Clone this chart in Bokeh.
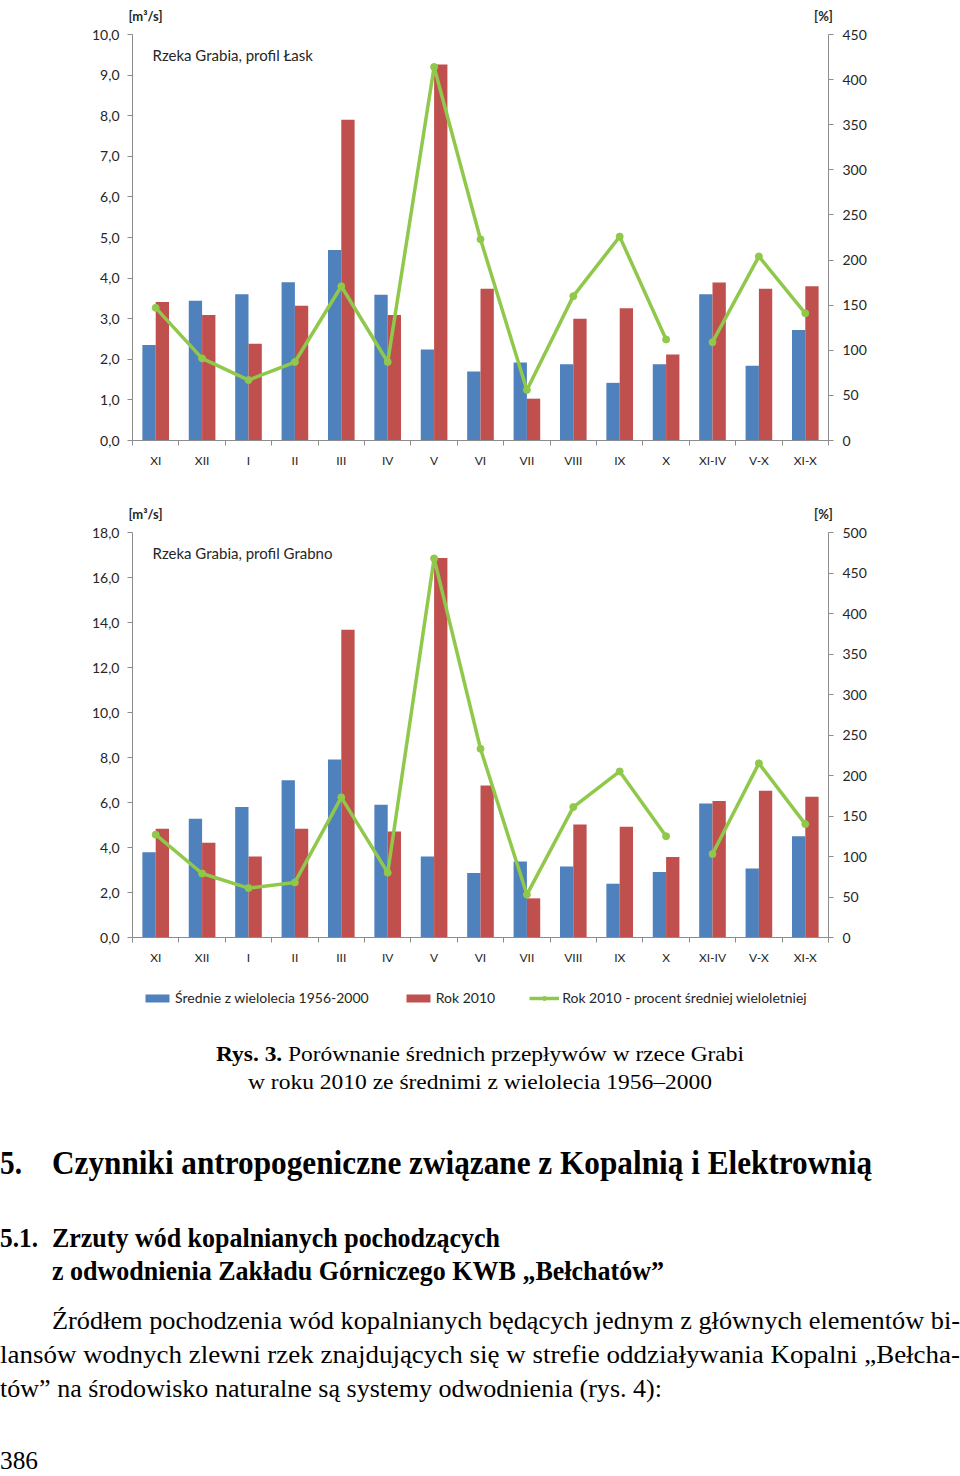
from bokeh.plotting import figure
from bokeh.models import Range1d, LinearAxis, FixedTicker, Label, Legend, LegendItem, Div
from bokeh.layouts import column
from bokeh.embed import file_html
from bokeh.resources import INLINE

months = ["XI", "XII", "I", "II", "III", "IV", "V", "VI", "VII", "VIII", "IX", "X", "XI-IV", "V-X", "XI-X"]

lask_mean = [2.35, 3.44, 3.60, 3.90, 4.69, 3.59, 2.24, 1.70, 1.92, 1.88, 1.42, 1.88, 3.60, 1.84, 2.72]
lask_2010 = [3.41, 3.09, 2.38, 3.32, 7.90, 3.09, 9.26, 3.74, 1.03, 3.00, 3.26, 2.12, 3.89, 3.74, 3.80]
lask_pct = [147, 91, 67, 87, 171, 87, 414, 223, 56, 160, 226, 112, 109, 204, 141]

grabno_mean = [3.79, 5.28, 5.80, 6.99, 7.91, 5.90, 3.60, 2.87, 3.38, 3.16, 2.39, 2.91, 5.96, 3.07, 4.50]
grabno_2010 = [4.83, 4.21, 3.60, 4.83, 13.68, 4.71, 16.87, 6.76, 1.74, 5.02, 4.92, 3.58, 6.07, 6.52, 6.26]
grabno_pct = [127, 79, 61, 68, 173, 80, 468, 233, 53, 161, 205, 125, 103, 215, 140]

lask_left_ticks = [0, 1, 2, 3, 4, 5, 6, 7, 8, 9, 10]
lask_right_ticks = [0, 50, 100, 150, 200, 250, 300, 350, 400, 450]
grabno_left_ticks = [0, 2, 4, 6, 8, 10, 12, 14, 16, 18]
grabno_right_ticks = [0, 50, 100, 150, 200, 250, 300, 350, 400, 450, 500]

legend_labels = ["Średnie z wielolecia 1956-2000", "Rok 2010", "Rok 2010 - procent średniej wieloletniej"]

BLUE = "#4F81BD"
RED = "#C0504D"
GREEN = "#8FC84A"
AXIS = "#8C8C8C"
TXT = "#262626"
FONT = "Lato"
FRAME_L = 132      # screen x of the left value axis
FRAME_W = 696      # width of the category area
WIDTH = 960


def make_chart(title, mean, y2010, pct, lticks, rticks, height, zero_px, top_px, with_legend):
    n = len(months)
    xs = list(range(1, n + 1))
    ymax = lticks[-1]
    pmax = rticks[-1]
    ppu = (zero_px - top_px) / ymax          # pixels per left-axis unit
    lo = -(height - zero_px) / ppu
    hi = ymax + top_px / ppu
    k = pmax / ymax
    cat_px = FRAME_W / n
    xlo = 0.5 - FRAME_L / cat_px
    xhi = n + 0.5 + (WIDTH - FRAME_L - FRAME_W) / cat_px

    def sx(px):  # screen x -> data x
        return 0.5 + (px - FRAME_L) / cat_px

    def sy(px):  # screen y (from figure top) -> data y
        return (zero_px - px) / ppu

    p = figure(width=WIDTH, height=height, x_range=Range1d(xlo, xhi), y_range=Range1d(lo, hi),
               output_backend="svg", toolbar_location=None,
               min_border_left=0, min_border_right=0, min_border_top=0, min_border_bottom=0)
    p.extra_y_ranges = {"pct": Range1d(lo * k, hi * k)}
    p.outline_line_color = None
    p.xgrid.visible = False
    p.ygrid.visible = False
    p.background_fill_color = "white"
    p.border_fill_color = "white"

    # x axis (fixed at y = 0)
    xa = p.xaxis[0]
    xa.fixed_location = 0
    xa.bounds = (0.5, n + 0.5)
    xa.ticker = FixedTicker(ticks=xs, minor_ticks=[x + 0.5 for x in range(0, n + 1)])
    xa.major_label_overrides = {x: m for x, m in zip(xs, months)}
    xa.major_tick_out = 0
    xa.major_tick_in = 0
    xa.minor_tick_out = 5
    xa.minor_tick_in = 0
    xa.minor_tick_line_color = AXIS
    xa.axis_line_color = AXIS
    xa.major_label_text_font = FONT
    xa.major_label_text_font_size = "12px"
    xa.major_label_text_color = TXT
    xa.major_label_standoff = 7

    # left axis (fixed at the left edge of the category area)
    ya = p.yaxis[0]
    ya.fixed_location = 0.5
    ya.bounds = (0, ymax)
    ya.ticker = FixedTicker(ticks=lticks, minor_ticks=[])
    ya.major_label_overrides = {t: f"{t:.1f}".replace(".", ",") for t in lticks}
    ya.major_tick_out = 5
    ya.major_tick_in = 0
    ya.major_tick_line_color = AXIS
    ya.axis_line_color = AXIS
    ya.major_label_text_font = FONT
    ya.major_label_text_font_size = "14px"
    ya.major_label_text_color = TXT
    ya.major_label_standoff = 8

    ra = LinearAxis(y_range_name="pct", ticker=FixedTicker(ticks=rticks, minor_ticks=[]),
                    bounds=(0, pmax), fixed_location=n + 0.5)
    ra.major_tick_out = 5
    ra.major_tick_in = 0
    ra.major_tick_line_color = AXIS
    ra.axis_line_color = AXIS
    ra.major_label_text_font = FONT
    ra.major_label_text_font_size = "14px"
    ra.major_label_text_color = TXT
    ra.major_label_standoff = 9
    p.add_layout(ra, "right")

    bw = 0.287
    b1 = p.vbar(x=[x - bw / 2 for x in xs], top=mean, width=bw, fill_color=BLUE, line_color=None)
    b2 = p.vbar(x=[x + bw / 2 for x in xs], top=y2010, width=bw, fill_color=RED, line_color=None)
    l1 = p.line(xs[:12], pct[:12], y_range_name="pct", line_color=GREEN, line_width=3.5, line_join="round")
    l2 = p.line(xs[12:], pct[12:], y_range_name="pct", line_color=GREEN, line_width=3.5, line_join="round")
    s1 = p.scatter(xs, pct, y_range_name="pct", marker="circle", size=7, fill_color=GREEN, line_color=GREEN)

    p.add_layout(Label(x=sx(145), y=sy(top_px - 19), text="[m³/s]", text_align="center",
                       text_baseline="middle", text_font=FONT, text_font_size="13px", text_font_style="bold",
                       text_color=TXT))
    p.add_layout(Label(x=sx(823), y=sy(top_px - 19), text="[%]", text_align="center",
                       text_baseline="middle", text_font=FONT, text_font_size="13px", text_font_style="bold",
                       text_color=TXT))
    p.add_layout(Label(x=sx(152), y=sy(top_px + 20), text=title, text_align="left",
                       text_baseline="middle", text_font=FONT, text_font_size="15px",
                       text_color=TXT))

    if with_legend:
        leg = Legend(items=[LegendItem(label=legend_labels[0], renderers=[b1]),
                            LegendItem(label=legend_labels[1], renderers=[b2]),
                            LegendItem(label=legend_labels[2], renderers=[l1, s1])],
                     orientation="horizontal", location=(142, 14))
        leg.label_text_font = FONT
        leg.label_text_font_size = "14px"
        leg.label_text_color = TXT
        leg.glyph_width = 30
        leg.glyph_height = 10
        leg.spacing = 34
        leg.label_standoff = 3
        leg.border_line_color = None
        leg.background_fill_alpha = 0
        leg.margin = 0
        leg.padding = 0
        p.add_layout(leg, "center")
    return p


p1 = make_chart("Rzeka Grabia, profil Łask", lask_mean, lask_2010, lask_pct,
                lask_left_ticks, lask_right_ticks, 490, 440, 34, False)
p2 = make_chart("Rzeka Grabia, profil Grabno", grabno_mean, grabno_2010, grabno_pct,
                grabno_left_ticks, grabno_right_ticks, 530, 447, 42, True)

caption1_bold = "Rys. 3."
caption1 = "Porównanie średnich przepływów w rzece Grabi"
caption2 = "w roku 2010 ze średnimi z wielolecia 1956–2000"
heading_num = "5."
heading = "Czynniki antropogeniczne związane z Kopalnią i Elektrownią"
sub_num = "5.1."
sub1 = "Zrzuty wód kopalnianych pochodzących"
sub2 = "z odwodnienia Zakładu Górniczego KWB „Bełchatów”"
para1 = "Źródłem pochodzenia wód kopalnianych będących jednym z głównych elementów bi-"
para2 = "lansów wodnych zlewni rzek znajdujących się w strefie oddziaływania Kopalni „Bełcha-"
para3 = "tów” na środowisko naturalne są systemy odwodnienia (rys. 4):"
page_no = "386"


def t(x, y, size, content, length, bold=False):
    w = "bold" if bold else "normal"
    return (f'<text x="{x}" y="{y}" font-size="{size}" font-weight="{w}" textLength="{length}" '
            f'lengthAdjust="spacingAndGlyphs">{content}</text>')


svg = ['<svg xmlns="http://www.w3.org/2000/svg" width="960" height="456" '
       'style="display:block;font-family:\'Liberation Serif\',serif;fill:#000;white-space:pre">']
svg.append(t(216, 41, 21, f'<tspan font-weight="bold">{caption1_bold}</tspan> {caption1}', 528))
svg.append(t(248, 69, 21, caption2, 464))
svg.append(t(0, 154, 34, heading_num, 22, True))
svg.append(t(52, 154, 34, heading, 820, True))
svg.append(t(0, 227, 27, sub_num, 38, True))
svg.append(t(52, 227, 27, sub1, 448, True))
svg.append(t(52, 260, 27, sub2, 612, True))
svg.append(t(52, 309, 26, para1, 908))
svg.append(t(0, 343, 26, para2, 960))
svg.append(t(0, 377, 26, para3, 662))
svg.append(t(0, 449, 26, page_no, 38))
svg.append('</svg>')

div = Div(text="".join(svg), width=960, height=456, margin=0)

layout = column(p1, p2, div, spacing=0)
with open("out.html", "w", encoding="utf-8") as f:
    f.write(file_html(layout, INLINE))
